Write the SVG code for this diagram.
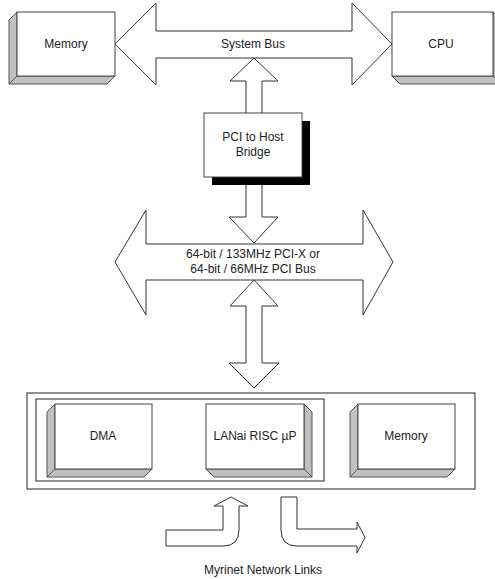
<svg xmlns="http://www.w3.org/2000/svg" width="495" height="579" viewBox="0 0 495 579">
<style>
.bg{fill:#fff}
.ar{fill:#fff;stroke:#333;stroke-width:1;stroke-linejoin:miter}
.face{fill:#fff;stroke:#444;stroke-width:1}
.side{fill:#c0c0c0;stroke:#555;stroke-width:1;stroke-linejoin:round}
.frame{fill:#fff;stroke:#222;stroke-width:1}
text{font-family:"Liberation Sans",Arial,sans-serif;font-size:12px;fill:#222;text-anchor:middle;dominant-baseline:central}
</style>
<rect class="bg" x="0" y="0" width="495" height="579"/>
<g id="connectors">
  <polygon id="system-bus" class="ar" points="115,44 156,3 156,31 352,31 352,3 392,44 352,85 352,58 156,58 156,85"/>
  <polygon id="pci-bus" class="ar" points="115,262 146,210 146,244 363,244 363,210 393,262 363,315 363,280 146,280 146,315"/>
  <polygon id="bridge-up" class="ar" points="254,58 278,81 262,81 262,113.5 246,113.5 246,81 230,81"/>
  <polygon id="bridge-down" class="ar" points="246,177 262,177 262,217 278,217 254,243 229,217 246,217"/>
  <polygon id="pci-card" class="ar" points="254,280 278,306 262,306 262,363 279,363 254,388 229,363 246,363 246,306 230,306"/>
  <path id="link-in" class="ar" d="M166,530 L223,530 L223,506 L214,506 L231,497 L248,506 L239,506 L239,530 Q239,546 223,546 L166,546 Z"/>
  <path id="link-out" class="ar" d="M281,497 L297,497 L297,529 L357,529 L357,522 L365,537.5 L357,553 L357,546 L297,546 Q281,546 281,530 Z"/>
</g>
<text x="253" y="44">System Bus</text>
<text x="253" y="254">64-bit / 133MHz PCI-X or</text>
<text x="253" y="269">64-bit / 66MHz PCI Bus</text>
<g id="memory-top">
  <polygon class="side" points="17,12 9,20 9,84 17,76"/>
  <polygon class="side" points="17,76 9,84 107,84 115,76"/>
  <rect class="face" x="17" y="12" width="98" height="64"/>
  <text x="66" y="44">Memory</text>
</g>
<g id="cpu">
  <polygon class="side" points="392,76 400,84 501,84 493,76"/>
  <polygon class="side" points="493,12 501,20 501,84 493,76"/>
  <rect class="face" x="392" y="12" width="101" height="64"/>
  <text x="441" y="44">CPU</text>
</g>
<g id="bridge">
  <rect x="212" y="121" width="98" height="64" fill="#000"/>
  <rect class="face" x="204" y="113" width="98" height="64"/>
  <text x="253" y="137">PCI to Host</text>
  <text x="253" y="152">Bridge</text>
</g>
<g id="myrinet-card">
  <rect class="frame" x="27" y="393" width="448" height="96"/>
  <rect class="frame" x="36" y="399" width="288" height="82"/>
</g>
<g id="dma">
  <polygon class="side" points="55,404 47,412 47,477 55,469"/>
  <polygon class="side" points="55,469 47,477 144,477 152,469"/>
  <rect class="face" x="55" y="404" width="97" height="65"/>
  <text x="103" y="436">DMA</text>
</g>
<g id="lanai">
  <polygon class="side" points="304,404 312,412 312,477 304,469"/>
  <polygon class="side" points="206,469 214,477 312,477 304,469"/>
  <rect class="face" x="206" y="404" width="98" height="65"/>
  <text x="255" y="436">LANai RISC µP</text>
</g>
<g id="memory-card">
  <polygon class="side" points="358,404 350,412 350,477 358,469"/>
  <polygon class="side" points="358,469 350,477 447,477 455,469"/>
  <rect class="face" x="358" y="404" width="97" height="65"/>
  <text x="406" y="436">Memory</text>
</g>
<text x="263" y="570">Myrinet Network Links</text>
</svg>
